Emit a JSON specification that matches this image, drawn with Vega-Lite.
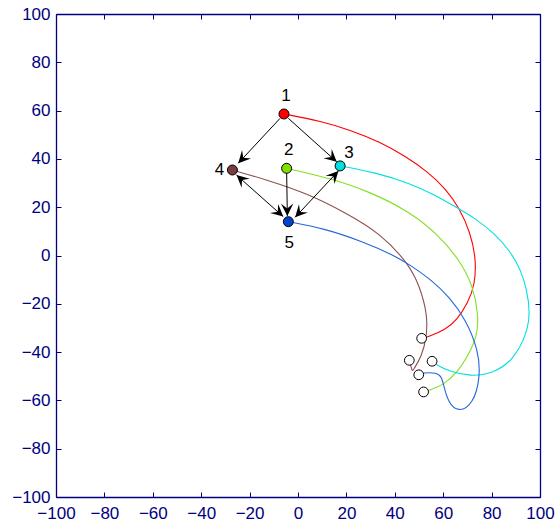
{
  "$schema": "https://vega.github.io/schema/vega-lite/v6.json",
  "width": 484,
  "height": 483,
  "autosize": {"type": "none"},
  "padding": {"left": 56, "top": 14, "right": 15, "bottom": 29},
  "background": "white",
  "config": {
    "view": {"stroke": null},
    "axis": {
      "domainColor": "#000080",
      "tickColor": "#000080",
      "labelColor": "#000080",
      "labelFont": "Liberation Sans",
      "labelFontSize": 17,
      "grid": false,
      "title": null,
      "tickSize": -5,
      "labelOverlap": false,
      "labelBound": false,
      "labelFlush": false,
      "domainWidth": 1.3,
      "tickWidth": 1
    }
  },
  "datasets": {
    "traj": [
      {"a": "1", "i": 0, "x": -5.8, "y": 58.6},
      {"a": "1", "i": 1, "x": 9.1, "y": 55.7},
      {"a": "1", "i": 2, "x": 21.5, "y": 52.0},
      {"a": "1", "i": 3, "x": 33.9, "y": 47.0},
      {"a": "1", "i": 4, "x": 44.2, "y": 41.2},
      {"a": "1", "i": 5, "x": 53.7, "y": 34.6},
      {"a": "1", "i": 6, "x": 61.2, "y": 27.5},
      {"a": "1", "i": 7, "x": 66.9, "y": 19.3},
      {"a": "1", "i": 8, "x": 71.1, "y": 9.7},
      {"a": "1", "i": 9, "x": 73.6, "y": -1.0},
      {"a": "1", "i": 10, "x": 73.1, "y": -12.2},
      {"a": "1", "i": 11, "x": 70.2, "y": -19.7},
      {"a": "1", "i": 12, "x": 65.7, "y": -26.7},
      {"a": "1", "i": 13, "x": 60.7, "y": -30.9},
      {"a": "1", "i": 14, "x": 53.7, "y": -33.7},
      {"a": "1", "i": 15, "x": 51.1, "y": -34.3},
      {"a": "2", "i": 0, "x": -4.7, "y": 36.1},
      {"a": "2", "i": 1, "x": 13.2, "y": 32.0},
      {"a": "2", "i": 2, "x": 29.8, "y": 26.4},
      {"a": "2", "i": 3, "x": 46.3, "y": 18.0},
      {"a": "2", "i": 4, "x": 57.3, "y": 9.2},
      {"a": "2", "i": 5, "x": 66.9, "y": -1.9},
      {"a": "2", "i": 6, "x": 72.4, "y": -12.9},
      {"a": "2", "i": 7, "x": 74.6, "y": -24.6},
      {"a": "2", "i": 8, "x": 74.0, "y": -33.6},
      {"a": "2", "i": 9, "x": 70.4, "y": -41.2},
      {"a": "2", "i": 10, "x": 65.6, "y": -48.8},
      {"a": "2", "i": 11, "x": 60.0, "y": -53.6},
      {"a": "2", "i": 12, "x": 54.6, "y": -55.7},
      {"a": "2", "i": 13, "x": 51.9, "y": -56.5},
      {"a": "3", "i": 0, "x": 17.4, "y": 37.1},
      {"a": "3", "i": 1, "x": 31.8, "y": 34.4},
      {"a": "3", "i": 2, "x": 46.3, "y": 29.9},
      {"a": "3", "i": 3, "x": 56.6, "y": 25.1},
      {"a": "3", "i": 4, "x": 66.1, "y": 19.5},
      {"a": "3", "i": 5, "x": 73.1, "y": 15.5},
      {"a": "3", "i": 6, "x": 81.4, "y": 8.9},
      {"a": "3", "i": 7, "x": 87.6, "y": 1.9},
      {"a": "3", "i": 8, "x": 92.1, "y": -6.0},
      {"a": "3", "i": 9, "x": 94.6, "y": -14.3},
      {"a": "3", "i": 10, "x": 95.9, "y": -23.4},
      {"a": "3", "i": 11, "x": 94.7, "y": -32.2},
      {"a": "3", "i": 12, "x": 89.0, "y": -43.3},
      {"a": "3", "i": 13, "x": 80.7, "y": -48.8},
      {"a": "3", "i": 14, "x": 71.1, "y": -50.1},
      {"a": "3", "i": 15, "x": 62.8, "y": -48.1},
      {"a": "3", "i": 16, "x": 57.3, "y": -45.3},
      {"a": "3", "i": 17, "x": 55.4, "y": -43.8},
      {"a": "4", "i": 0, "x": -27.1, "y": 35.4},
      {"a": "4", "i": 1, "x": -12.9, "y": 31.3},
      {"a": "4", "i": 2, "x": 3.6, "y": 25.8},
      {"a": "4", "i": 3, "x": 20.1, "y": 17.5},
      {"a": "4", "i": 4, "x": 33.9, "y": 9.2},
      {"a": "4", "i": 5, "x": 45.6, "y": -3.2},
      {"a": "4", "i": 6, "x": 50.4, "y": -12.9},
      {"a": "4", "i": 7, "x": 53.5, "y": -24.6},
      {"a": "4", "i": 8, "x": 53.2, "y": -33.6},
      {"a": "4", "i": 9, "x": 51.1, "y": -41.9},
      {"a": "4", "i": 10, "x": 47.6, "y": -47.4},
      {"a": "4", "i": 11, "x": 47.2, "y": -48.1},
      {"a": "4", "i": 12, "x": 46.0, "y": -43.4},
      {"a": "5", "i": 0, "x": -4.0, "y": 14.0},
      {"a": "5", "i": 1, "x": 10.5, "y": 11.3},
      {"a": "5", "i": 2, "x": 27.0, "y": 5.7},
      {"a": "5", "i": 3, "x": 39.4, "y": 0.2},
      {"a": "5", "i": 4, "x": 46.3, "y": -3.9},
      {"a": "5", "i": 5, "x": 54.6, "y": -9.7},
      {"a": "5", "i": 6, "x": 62.8, "y": -17.4},
      {"a": "5", "i": 7, "x": 69.4, "y": -26.7},
      {"a": "5", "i": 8, "x": 74.5, "y": -39.1},
      {"a": "5", "i": 9, "x": 75.4, "y": -50.2},
      {"a": "5", "i": 10, "x": 72.4, "y": -61.6},
      {"a": "5", "i": 11, "x": 66.2, "y": -65.0},
      {"a": "5", "i": 12, "x": 62.1, "y": -60.8},
      {"a": "5", "i": 13, "x": 60.3, "y": -54.3},
      {"a": "5", "i": 14, "x": 59.4, "y": -50.2},
      {"a": "5", "i": 15, "x": 57.3, "y": -48.5},
      {"a": "5", "i": 16, "x": 51.8, "y": -48.5},
      {"a": "5", "i": 17, "x": 49.9, "y": -49.4}
    ],
    "nodes": [
      {"a": "1", "x": -5.8, "y": 58.6},
      {"a": "2", "x": -4.7, "y": 36.1},
      {"a": "3", "x": 17.4, "y": 37.1},
      {"a": "4", "x": -27.1, "y": 35.4},
      {"a": "5", "x": -4.0, "y": 14.0}
    ],
    "ends": [
      {"a": "1", "x": 51.1, "y": -34.3},
      {"a": "2", "x": 51.9, "y": -56.5},
      {"a": "3", "x": 55.4, "y": -43.8},
      {"a": "4", "x": 46.0, "y": -43.4},
      {"a": "5", "x": 49.9, "y": -49.4}
    ],
    "edges": [
      {"from": "1", "to": "4", "x": -7.4, "y": 56.8, "x2": -24.7, "y2": 38.2, "both": false},
      {"from": "1", "to": "3", "x": -4.0, "y": 56.8, "x2": 16.0, "y2": 38.8, "both": false},
      {"from": "2", "to": "5", "x": -4.7, "y": 34.7, "x2": -4.4, "y2": 16.4, "both": false},
      {"from": "4", "to": "5", "x": -25.4, "y": 33.3, "x2": -6.1, "y2": 16.1, "both": true},
      {"from": "3", "to": "5", "x": 16.7, "y": 35.0, "x2": -1.2, "y2": 15.8, "both": true}
    ]
  },
  "layer": [
    {
      "data": {"name": "nodes"},
      "mark": {"type": "point", "opacity": 0},
      "encoding": {
        "x": {"field": "x", "type": "quantitative", "scale": {"domain": [-100, 100], "nice": false, "zero": false},
              "axis": {"orient": "top", "labels": false, "values": [-100, -80, -60, -40, -20, 0, 20, 40, 60, 80, 100]}},
        "y": {"field": "y", "type": "quantitative", "scale": {"domain": [-100, 100], "nice": false, "zero": false},
              "axis": {"orient": "right", "labels": false, "values": [-100, -80, -60, -40, -20, 0, 20, 40, 60, 80, 100]}}
      }
    },
    {
      "data": {"name": "traj"},
      "mark": {"type": "line", "interpolate": "basis", "strokeWidth": 1.1},
      "encoding": {
        "x": {"field": "x", "type": "quantitative", "scale": {"domain": [-100, 100], "nice": false, "zero": false},
              "axis": {"orient": "bottom", "labelPadding": 13, "values": [-100, -80, -60, -40, -20, 0, 20, 40, 60, 80, 100]}},
        "y": {"field": "y", "type": "quantitative", "scale": {"domain": [-100, 100], "nice": false, "zero": false},
              "axis": {"orient": "left", "labelPadding": 11, "values": [-100, -80, -60, -40, -20, 0, 20, 40, 60, 80, 100]}},
        "order": {"field": "i", "type": "quantitative"},
        "detail": {"field": "a"},
        "stroke": {"field": "a", "type": "nominal", "legend": null,
                   "scale": {"domain": ["1", "2", "3", "4", "5"], "range": ["#ff0000", "#80e020", "#00e0e0", "#8c5050", "#2266dd"]}}
      }
    },
    {
      "data": {"name": "edges"},
      "mark": {"type": "rule", "color": "black", "strokeWidth": 1},
      "encoding": {
        "x": {"field": "x", "type": "quantitative", "axis": null},
        "y": {"field": "y", "type": "quantitative", "axis": null},
        "x2": {"field": "x2"},
        "y2": {"field": "y2"}
      }
    },
    {
      "data": {"name": "edges"},
      "transform": [{"calculate": "atan2(datum.x2 - datum.x, datum.y2 - datum.y) * 180 / PI", "as": "ang"}],
      "mark": {"type": "point", "shape": "M0,0 L-0.5,1 L0,0.6 L0.5,1 Z", "filled": true, "color": "black", "opacity": 1, "size": 600, "strokeWidth": 0},
      "encoding": {
        "x": {"field": "x2", "type": "quantitative", "axis": null},
        "y": {"field": "y2", "type": "quantitative", "axis": null},
        "angle": {"field": "ang", "type": "quantitative", "scale": null}
      }
    },
    {
      "data": {"name": "edges"},
      "transform": [{"filter": "datum.both"}, {"calculate": "atan2(datum.x - datum.x2, datum.y - datum.y2) * 180 / PI", "as": "ang"}],
      "mark": {"type": "point", "shape": "M0,0 L-0.5,1 L0,0.6 L0.5,1 Z", "filled": true, "color": "black", "opacity": 1, "size": 600, "strokeWidth": 0},
      "encoding": {
        "x": {"field": "x", "type": "quantitative", "axis": null},
        "y": {"field": "y", "type": "quantitative", "axis": null},
        "angle": {"field": "ang", "type": "quantitative", "scale": null}
      }
    },
    {
      "data": {"name": "nodes"},
      "mark": {"type": "point", "shape": "circle", "filled": true, "size": 100, "stroke": "black", "strokeWidth": 1, "opacity": 1},
      "encoding": {
        "x": {"field": "x", "type": "quantitative", "axis": null},
        "y": {"field": "y", "type": "quantitative", "axis": null},
        "fill": {"field": "a", "type": "nominal", "legend": null,
                 "scale": {"domain": ["1", "2", "3", "4", "5"], "range": ["#ff0000", "#80e000", "#00e0e0", "#7a3c3c", "#0044cc"]}}
      }
    },
    {
      "data": {"name": "ends"},
      "mark": {"type": "point", "shape": "circle", "filled": true, "fill": "white", "size": 95, "stroke": "black", "strokeWidth": 1, "opacity": 1},
      "encoding": {
        "x": {"field": "x", "type": "quantitative", "axis": null},
        "y": {"field": "y", "type": "quantitative", "axis": null}
      }
    },
    {
      "data": {"name": "nodes"},
      "transform": [{"filter": "datum.a == '1' || datum.a == '2'"}],
      "mark": {"type": "text", "font": "Liberation Sans", "fontSize": 17, "color": "black", "dy": -18, "dx": 2},
      "encoding": {
        "x": {"field": "x", "type": "quantitative", "axis": null},
        "y": {"field": "y", "type": "quantitative", "axis": null},
        "text": {"field": "a"}
      }
    },
    {
      "data": {"name": "nodes"},
      "transform": [{"filter": "datum.a == '3'"}],
      "mark": {"type": "text", "font": "Liberation Sans", "fontSize": 17, "color": "black", "dy": -13, "dx": 9},
      "encoding": {
        "x": {"field": "x", "type": "quantitative", "axis": null},
        "y": {"field": "y", "type": "quantitative", "axis": null},
        "text": {"field": "a"}
      }
    },
    {
      "data": {"name": "nodes"},
      "transform": [{"filter": "datum.a == '4'"}],
      "mark": {"type": "text", "font": "Liberation Sans", "fontSize": 17, "color": "black", "dy": 0, "dx": -13},
      "encoding": {
        "x": {"field": "x", "type": "quantitative", "axis": null},
        "y": {"field": "y", "type": "quantitative", "axis": null},
        "text": {"field": "a"}
      }
    },
    {
      "data": {"name": "nodes"},
      "transform": [{"filter": "datum.a == '5'"}],
      "mark": {"type": "text", "font": "Liberation Sans", "fontSize": 17, "color": "black", "dy": 21, "dx": 1},
      "encoding": {
        "x": {"field": "x", "type": "quantitative", "axis": null},
        "y": {"field": "y", "type": "quantitative", "axis": null},
        "text": {"field": "a"}
      }
    }
  ],
  "resolve": {"axis": {"x": "independent", "y": "independent"}}
}
